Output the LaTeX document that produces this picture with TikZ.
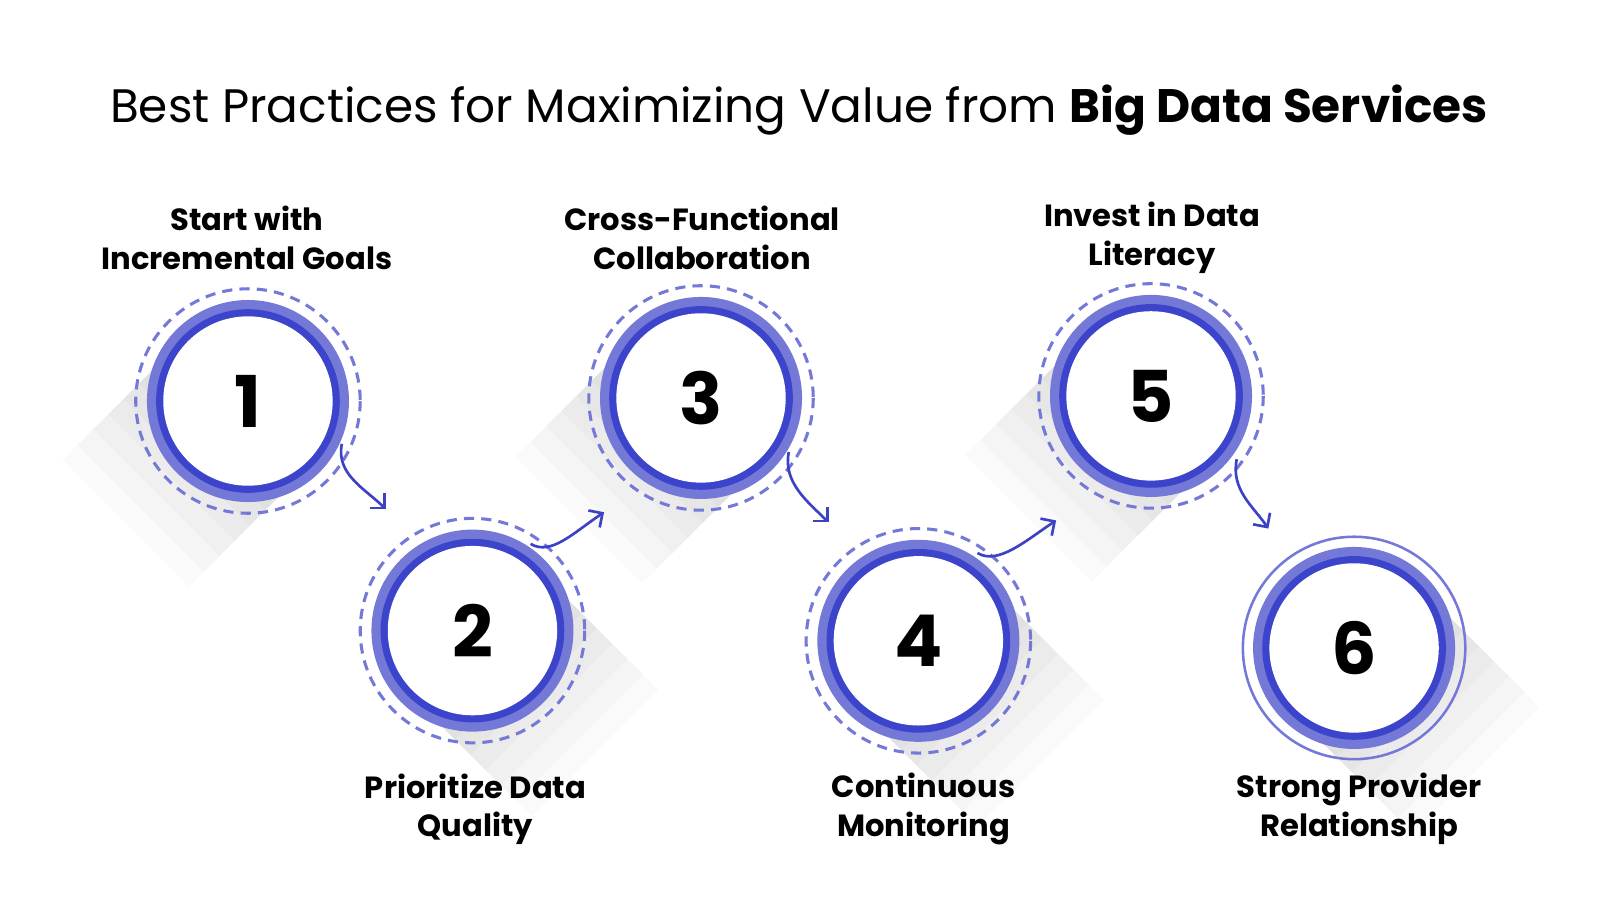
\documentclass[tikz,border=0pt]{standalone}
\usepackage{fontspec}
\setmainfont{Poppins}
\usetikzlibrary{arrows.meta}
\definecolor{band}{HTML}{7479D8}
\definecolor{ring}{HTML}{3C44CC}
\definecolor{arr}{HTML}{3B43C4}
\tikzset{
  lbl/.style={font=\fontsize{30}{38}\selectfont\bfseries, align=center, text=black},
  num/.style={font=\fontsize{70}{70}\selectfont\bfseries, text=black},
  conn/.style={draw=arr, line width=2.6pt, -{Straight Barb[length=10pt,width=20pt]}},
}
\begin{document}
\begin{tikzpicture}[x=1pt,y=-1pt]
\useasboundingbox (0,0) rectangle (1568,882);
\fill[white] (0,0) rectangle (1568,882);
\node[font=\fontsize{46}{50}\selectfont, anchor=base] (title) at (783,120) {Best Practices for Maximizing Value from \textbf{Big Data Services}};
% soft shadows: down-left for top row, down-right for bottom row
\foreach \cx/\cy in {243/393, 687/390, 1128/388}{
  \foreach \L in {15,30,...,120}{
    \fill[black, opacity=0.018] (\cx+62,\cy+62) -- (\cx-62,\cy-62) -- (\cx-62-\L,\cy-62+\L) -- (\cx+62-\L,\cy+62+\L) -- cycle;
  }
}
\foreach \cx/\cy in {463/618, 900/628, 1327/635}{
  \foreach \L in {15,30,...,120}{
    \fill[black, opacity=0.018] (\cx-62,\cy+62) -- (\cx+62,\cy-62) -- (\cx+62+\L,\cy-62+\L) -- (\cx-62+\L,\cy+62+\L) -- cycle;
  }
}
\foreach \n/\cx/\cy in {1/243/393, 2/463/618, 3/687/390, 4/900/628, 5/1128/388, 6/1327/635}{
  \fill[band] (\cx,\cy) circle (99);
  \fill[ring] (\cx,\cy) circle (90);
  \fill[white] (\cx,\cy) circle (83);
  \node[num] (c\n) at (\cx,\cy) {\n};
}
\foreach \cx/\cy in {243/393, 463/618, 687/390, 900/628, 1128/388}{
  \draw[band, line width=3pt, dash pattern=on 10pt off 7pt] (\cx,\cy) circle (110);
}
\draw[band, line width=2.5pt] (1327,635) circle (109);
% labels
\node[lbl] (l1) at (242,233) {Start with\\Incremental Goals};
\node[lbl] (l2) at (466,793) {Prioritize Data\\Quality};
\node[lbl] (l3) at (688,233) {Cross-Functional\\Collaboration};
\node[lbl] (l4) at (905,793) {Continuous\\Monitoring};
\node[lbl] (l5) at (1129,233) {Invest in Data\\Literacy};
\node[lbl] (l6) at (1332,793) {Strong Provider\\Relationship};
% connectors
\coordinate (s1) at (335,435); \coordinate (e1) at (378,499);
\coordinate (s2) at (520,533); \coordinate (e2) at (592,502);
\coordinate (s3) at (773,443); \coordinate (e3) at (812,512);
\coordinate (s4) at (958,542); \coordinate (e4) at (1035,510);
\coordinate (s5) at (1212,450); \coordinate (e5) at (1243,518);
\draw[conn] (s1) .. controls +(-6,30) and +(-20,-20) .. (e1);
\draw[conn] (s2) .. controls +(20,12) and +(-30,20) .. (e2);
\draw[conn] (s3) .. controls +(-6,30) and +(-20,-20) .. (e3);
\draw[conn] (s4) .. controls +(20,12) and +(-30,20) .. (e4);
\draw[conn] (s5) .. controls +(-6,30) and +(-15,-22) .. (e5);
\end{tikzpicture}
\end{document}
